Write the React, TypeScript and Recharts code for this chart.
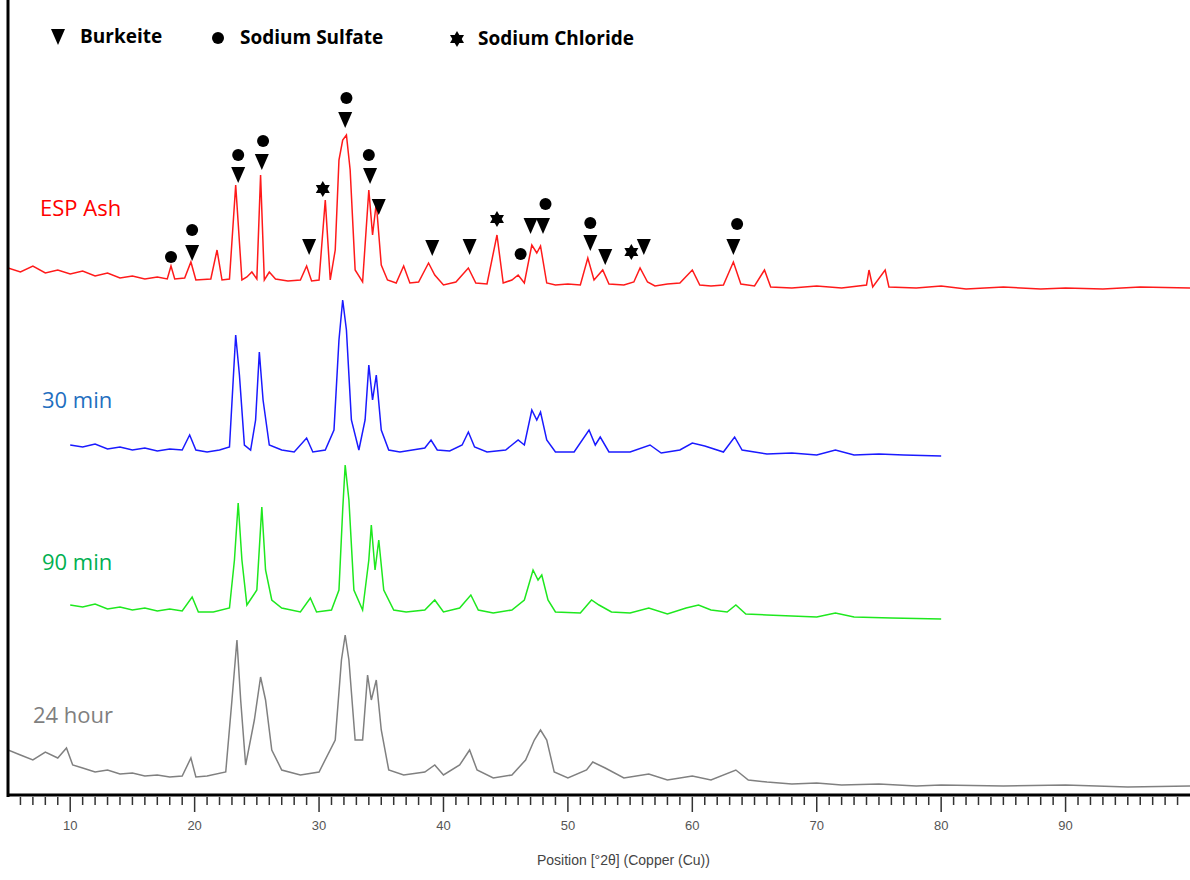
import React from 'react'
import { ComposedChart, Line, Scatter, XAxis, YAxis } from 'recharts'

const espAsh: [number, number][] = [
  [5, 268], [6, 272], [7, 266], [8, 273], [9, 270], [10, 274], [11, 271], [12, 276], [13, 273], [14, 278], [15, 276], [16, 279], [17, 277],
  [17.8, 279], [18.1, 266], [18.4, 279], [19.2, 278], [19.7, 262], [20.1, 280], [21.3, 279], [21.8, 250], [22.2, 280], [22.8, 279],
  [23.3, 185], [23.8, 280], [24.2, 277], [24.6, 272], [25.0, 279], [25.3, 175], [25.6, 280], [26, 272], [26.5, 279], [27.5, 281],
  [28.5, 280], [29, 266], [29.4, 281], [30, 280], [30.5, 200], [30.9, 280], [31.3, 250], [31.6, 160], [31.9, 140], [32.2, 135],
  [32.5, 170], [32.9, 270], [33.5, 282], [34.0, 190], [34.3, 235], [34.6, 203], [35.0, 265], [35.5, 280], [36.2, 283], [36.8, 266],
  [37.3, 283], [38, 282], [38.8, 263], [39.3, 275], [40, 285], [41, 282], [42, 268], [42.6, 283], [43.5, 284], [44.3, 235], [44.8, 283],
  [45.5, 280], [46, 275], [46.5, 283], [47.1, 245], [47.5, 253], [47.8, 246], [48.3, 283], [49, 285], [50, 284], [51, 285], [51.6, 258],
  [52.1, 280], [52.8, 270], [53.3, 284], [54.5, 285], [55.3, 282], [55.8, 268], [56.4, 282], [57, 286], [58, 284], [59, 283], [60, 270],
  [60.6, 285], [61.5, 286], [62.5, 285], [63.3, 262], [63.9, 284], [65, 286], [65.8, 270], [66.3, 287], [68, 288], [70, 286], [72, 288],
  [74, 285], [74.2, 270], [74.5, 287], [75.5, 270], [75.8, 287], [78, 288], [80, 286], [82, 289], [85, 287], [88, 289], [90, 288],
  [93, 289], [96, 287], [100, 288],
]
const min30: [number, number][] = [
  [10, 445], [11, 447], [12, 444], [13, 449], [14, 447], [15, 450], [16, 448], [17, 451], [18, 449], [19, 450], [19.6, 435], [20.1, 450],
  [21, 452], [22, 450], [22.8, 447], [23.1, 380], [23.3, 335], [23.6, 375], [24, 445], [24.5, 450], [24.9, 420], [25.2, 352], [25.5, 400],
  [26, 445], [27, 450], [28, 452], [29, 438], [29.5, 452], [30.5, 450], [31.2, 430], [31.6, 340], [31.9, 300], [32.2, 330], [32.6, 420],
  [33.2, 450], [33.7, 420], [34.0, 365], [34.3, 400], [34.6, 375], [35, 430], [35.6, 450], [36.5, 452], [37.5, 450], [38.5, 448], [39, 440],
  [39.5, 450], [40.5, 451], [41.5, 445], [42, 432], [42.5, 447], [43.5, 452], [45, 450], [46, 440], [46.5, 445], [47.1, 410], [47.5, 420],
  [47.8, 412], [48.3, 440], [49, 452], [50.5, 452], [51.7, 430], [52.2, 445], [52.6, 437], [53.3, 452], [55, 452], [56.6, 445], [57.5, 453],
  [59, 450], [60, 443], [61, 446], [62.5, 452], [63.4, 437], [64, 450], [66, 454], [68, 453], [70, 455], [71.5, 450], [73, 455], [75, 454],
  [77, 455], [80, 456],
]
const min90: [number, number][] = [
  [10, 605], [11, 607], [12, 604], [13, 609], [14, 607], [15, 610], [16, 608], [17, 611], [18, 609], [19, 611], [19.8, 597], [20.3, 612],
  [21.5, 612], [22.8, 608], [23.2, 560], [23.5, 503], [23.8, 560], [24.2, 605], [25, 590], [25.4, 507], [25.7, 570], [26.2, 600], [27, 608],
  [28.5, 612], [29.3, 598], [29.8, 612], [31, 610], [31.6, 590], [31.9, 510], [32.1, 465], [32.4, 500], [32.8, 590], [33.5, 610], [34.0, 560],
  [34.2, 525], [34.5, 570], [34.8, 540], [35.2, 590], [36, 610], [37, 612], [38.5, 610], [39.3, 600], [40, 612], [41.3, 608], [42.2, 595],
  [42.8, 610], [44, 613], [45.5, 610], [46.5, 600], [47.2, 570], [47.6, 580], [47.9, 575], [48.4, 600], [49, 612], [51, 613], [51.9, 600],
  [52.5, 605], [53.5, 612], [55, 613], [56.5, 608], [58, 614], [59.5, 608], [60.5, 605], [61.5, 610], [62.8, 612], [63.5, 605], [64.3, 614],
  [66, 615], [68, 616], [70, 617], [71.5, 613], [73, 617], [76, 618], [80, 619],
]
const hour24: [number, number][] = [
  [5, 750], [6, 755], [7, 760], [8, 752], [9, 758], [9.7, 748], [10.2, 765], [11, 768], [12, 772], [13, 770], [14, 774], [15, 773], [16, 776],
  [17, 775], [18, 777], [19, 776], [19.7, 758], [20.1, 777], [21, 776], [22.5, 772], [23.0, 700], [23.4, 640], [23.7, 700], [24.1, 765],
  [24.8, 720], [25.3, 677], [25.7, 700], [26.2, 750], [27, 770], [28.5, 775], [30, 772], [31.3, 740], [31.8, 660], [32.1, 635], [32.4, 660],
  [32.9, 740], [33.5, 740], [33.9, 675], [34.2, 700], [34.6, 680], [35, 730], [35.6, 770], [36.8, 775], [38.5, 772], [39.3, 765], [40, 775],
  [41.3, 765], [42.1, 750], [42.7, 770], [44, 778], [45.5, 775], [46.6, 760], [47.3, 740], [47.8, 730], [48.3, 740], [48.9, 772], [50, 778],
  [51.5, 770], [52, 762], [53, 768], [54.5, 778], [56.5, 774], [58, 780], [60, 776], [61.5, 780], [63.5, 770], [64.5, 780], [66, 782],
  [68, 784], [70, 783], [72, 785], [75, 784], [78, 786], [80, 785], [85, 786], [90, 785], [95, 787], [100, 786],
]

// phase markers: [2θ, level]
const burkeite: [number, number][] = [
  [19.8, 253], [23.5, 175], [25.4, 162], [29.2, 247], [32.1, 120], [34.1, 176], [34.8, 207], [39.1, 248], [42.1, 247],
  [47.0, 226], [48.0, 226], [51.8, 243], [53.0, 257], [56.1, 247], [63.3, 247],
]
const sodiumSulfate: [number, number][] = [
  [18.1, 257], [19.8, 230], [23.5, 155], [25.5, 141], [32.2, 98], [34.0, 155], [46.2, 254], [48.2, 204], [51.8, 223], [63.6, 224],
]
const sodiumChloride: [number, number][] = [[30.3, 189], [44.3, 219], [55.1, 252]]

const xTicks = Array.from({ length: 94 }, (_, i) => i + 6)
const labelled = [10, 20, 30, 40, 50, 60, 70, 80, 90]

const toRows = (pts: [number, number][]) => pts.map(([x, y]) => ({ x, y }))

const Tri = ({ cx, cy }: any) => (
  <path d={`M${cx - 7},${cy - 8} L${cx + 7},${cy - 8} L${cx},${cy + 8} Z`} fill="#000" />
)
const Dot = ({ cx, cy }: any) => <circle cx={cx} cy={cy} r={6} fill="#000" />
const Star = ({ cx, cy }: any) => (
  <g fill="#000">
    <path d={`M${cx},${cy - 8} L${cx + 7},${cy + 4} L${cx - 7},${cy + 4} Z`} />
    <path d={`M${cx},${cy + 8} L${cx + 7},${cy - 4} L${cx - 7},${cy - 4} Z`} />
  </g>
)

const Tick = ({ x, y, payload }: any) => {
  const major = labelled.includes(payload.value)
  return (
    <g>
      <line x1={x} x2={x} y1={y - 8} y2={y + (major ? 7 : 0)} stroke="#333" strokeWidth={1.5} />
      {major && (
        <text x={x} y={y + 25} textAnchor="middle" fontSize={13} fill="#555" fontFamily="Liberation Sans, Arial">
          {payload.value}
        </text>
      )}
    </g>
  )
}

const label = (color: string, size: number, weight = 400): React.CSSProperties => ({
  position: 'absolute', color, fontSize: size, fontWeight: weight, fontFamily: 'Open Sans, Noto Sans, sans-serif', whiteSpace: 'nowrap',
})

export default function App() {
  return (
    <div style={{ position: 'absolute', left: 0, top: 0, width: 1190, height: 880, background: 'white' }}>
      <ComposedChart width={1190} height={880} margin={{ top: 0, right: 0, bottom: 40, left: 8 }}>
        <XAxis type="number" dataKey="x" domain={[5, 100]} ticks={xTicks} interval={0} tick={<Tick />} tickLine={false}
          tickSize={8} height={45} axisLine={{ stroke: '#000', strokeWidth: 3 }} allowDataOverflow />
        <YAxis type="number" dataKey="y" domain={[0, 795]} reversed width={0} tick={false} axisLine={false} />
        <Line data={toRows(espAsh)} dataKey="y" stroke="#ff1a1a" strokeWidth={1.5} dot={false} isAnimationActive={false} />
        <Line data={toRows(min30)} dataKey="y" stroke="#1a1aff" strokeWidth={1.5} dot={false} isAnimationActive={false} />
        <Line data={toRows(min90)} dataKey="y" stroke="#1ee81e" strokeWidth={1.5} dot={false} isAnimationActive={false} />
        <Line data={toRows(hour24)} dataKey="y" stroke="#808080" strokeWidth={1.5} dot={false} isAnimationActive={false} />
        <Scatter data={toRows(burkeite)} shape={<Tri />} isAnimationActive={false} />
        <Scatter data={toRows(sodiumSulfate)} shape={<Dot />} isAnimationActive={false} />
        <Scatter data={toRows(sodiumChloride)} shape={<Star />} isAnimationActive={false} />
      </ComposedChart>

      <svg style={{ position: 'absolute', left: 0, top: 0 }} width={1190} height={800}>
        <line x1={8} x2={8} y1={0} y2={797} stroke="#000" strokeWidth={3} />
        <Tri cx={58} cy={37} />
        <Dot cx={218} cy={38} />
        <Star cx={457} cy={39} />
      </svg>
      <div style={{ ...label('#000', 19, 700), left: 80, top: 23 }}>Burkeite</div>
      <div style={{ ...label('#000', 19, 700), left: 240, top: 24 }}>Sodium Sulfate</div>
      <div style={{ ...label('#000', 19, 700), left: 478, top: 25 }}>Sodium Chloride</div>

      <div style={{ ...label('#ff0000', 22), left: 40, top: 192 }}>ESP Ash</div>
      <div style={{ ...label('#1f6fbf', 22), left: 42, top: 384 }}>30 min</div>
      <div style={{ ...label('#00b050', 22), left: 42, top: 546 }}>90 min</div>
      <div style={{ ...label('#7f7f7f', 22), left: 33, top: 699 }}>24 hour</div>

      <div style={{ position: 'absolute', left: 537, top: 852, fontSize: 14, color: '#444', fontFamily: 'Liberation Sans, Arial', whiteSpace: 'nowrap' }}>
        Position [°2θ] (Copper (Cu))
      </div>
    </div>
  )
}
